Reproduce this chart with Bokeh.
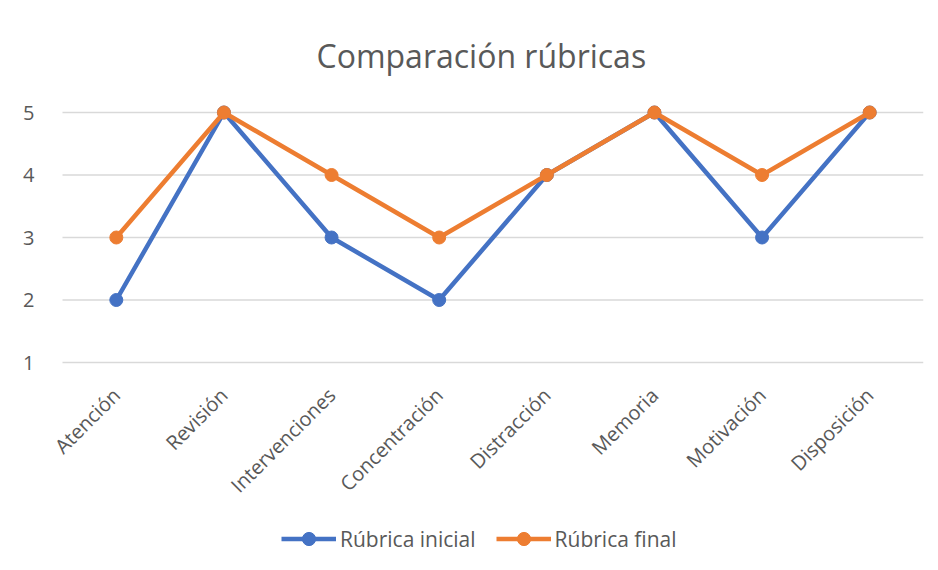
from bokeh.plotting import figure
from bokeh.models import Range1d, FixedTicker, Legend, LegendItem, ColumnDataSource
from bokeh.core.properties import value
from bokeh.embed import file_html
from bokeh.resources import INLINE
import math

categories = ["Atención", "Revisión", "Intervenciones", "Concentración",
              "Distracción", "Memoria", "Motivación", "Disposición"]
inicial = [2, 5, 3, 2, 4, 5, 3, 5]
final = [3, 5, 4, 3, 4, 5, 4, 5]
y_ticks = [1, 2, 3, 4, 5]

BLUE = "#4472C4"
ORANGE = "#ED7D31"
TXT = "#595959"
GRID = "#d9d9d9"
FONT = "Open Sans"

xs = list(range(len(categories)))
n = len(categories)

PX_PER_CAT = 107.6
PX_PER_UNIT = 62.5
FRAME_H = 466
EXTRA_LEFT = 18
y_top = y_ticks[-1] + 16 / PX_PER_UNIT
y_bottom = y_top - FRAME_H / PX_PER_UNIT
x_left = -0.5 - EXTRA_LEFT / PX_PER_CAT
x_right = n - 0.5

p = figure(x_range=Range1d(x_left, x_right), y_range=Range1d(y_bottom, y_top),
           frame_width=861 + EXTRA_LEFT, frame_height=FRAME_H,
           min_border_left=62 - EXTRA_LEFT, min_border_right=7, min_border_top=96,
           min_border_bottom=0,
           output_backend="svg", toolbar_location=None,
           title="Comparación rúbricas")

p.title.text_font = FONT
p.title.text_font_size = "32px"
p.title.text_font_style = "normal"
p.title.text_color = TXT
p.title.align = "left"
p.title.offset = 254 + EXTRA_LEFT
p.title.standoff = 40

p.outline_line_color = None
p.xgrid.grid_line_color = None
p.ygrid.grid_line_color = None

# horizontal gridlines spanning the category band only
p.segment(x0=[-0.5] * len(y_ticks), x1=[n - 0.5] * len(y_ticks),
          y0=y_ticks, y1=y_ticks, line_color=GRID, line_width=1.3)

p.yaxis.ticker = FixedTicker(ticks=y_ticks)
p.yaxis.axis_line_color = None
p.yaxis.major_tick_line_color = None
p.yaxis.minor_tick_line_color = None
p.yaxis.major_label_text_font = FONT
p.yaxis.major_label_text_font_size = "20px"
p.yaxis.major_label_text_color = TXT
p.yaxis.major_label_standoff = 22 - EXTRA_LEFT

p.xaxis.visible = False

# category labels, rotated, just below the lowest gridline
label_y = y_ticks[0] - 29 / PX_PER_UNIT
lab_src = ColumnDataSource(dict(x=xs, y=[label_y] * n, text=categories))
p.text(x="x", y="y", text="text", source=lab_src, angle=math.pi / 4,
       text_align="right", text_baseline="middle",
       text_font=value(FONT), text_font_size="20px", text_color=TXT)

l1 = p.line(xs, inicial, line_color=BLUE, line_width=4.5)
c1 = p.scatter(xs, inicial, size=13, fill_color=BLUE, line_color=BLUE)
l2 = p.line(xs, final, line_color=ORANGE, line_width=4.5)
c2 = p.scatter(xs, final, size=13, fill_color=ORANGE, line_color=ORANGE)

legend = Legend(items=[LegendItem(label="Rúbrica inicial", renderers=[l1, c1]),
                       LegendItem(label="Rúbrica final", renderers=[l2, c2])],
                orientation="horizontal", location=(219 + EXTRA_LEFT, 7),
                label_text_font=FONT, label_text_font_size="21px",
                label_text_color=TXT, glyph_width=55, glyph_height=33,
                label_standoff=4, spacing=20, border_line_color=None,
                background_fill_alpha=0, margin=0, padding=4)
p.add_layout(legend)

open("out.html", "w").write(file_html(p, INLINE))
